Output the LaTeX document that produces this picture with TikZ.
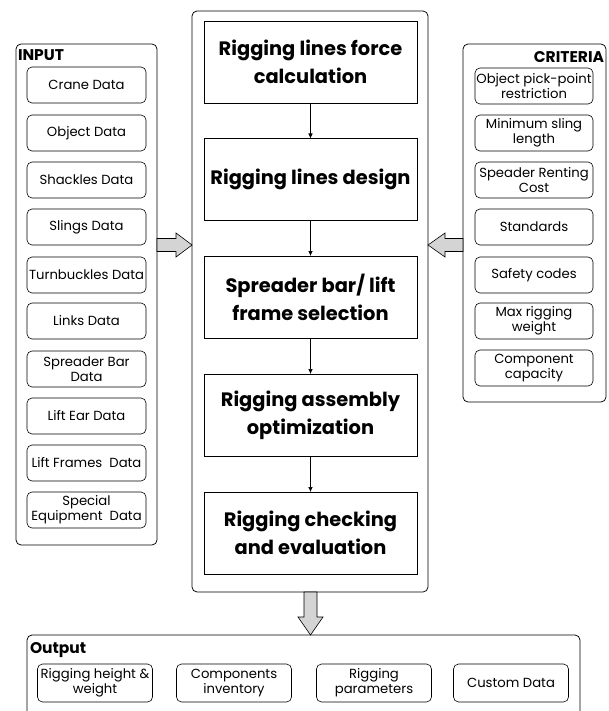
\documentclass[tikz,border=0pt]{standalone}
\usepackage{fontspec}
\setmainfont{Poppins}
\usetikzlibrary{arrows.meta}
\tikzset{
  every node/.style={inner sep=0pt, outer sep=0pt},
  outerbox/.style={draw, line width=0.75pt, rounded corners=5pt, anchor=north west},
  databox/.style={draw, line width=0.6pt, rounded corners=5pt, minimum width=119pt, minimum height=36pt, align=center, font=\fontsize{13.2}{15}\selectfont},
  stepbox/.style={draw, line width=0.75pt, fill=white, minimum width=213pt, minimum height=82pt, align=center, font=\bfseries\fontsize{19.4}{28}\selectfont},
  outbox/.style={databox, minimum width=115pt, minimum height=38pt},
  titletext/.style={font=\bfseries\fontsize{15.5}{18}\selectfont},
  flow/.style={draw, line width=0.6pt, -{Latex[length=5pt,width=4.5pt]}},
  barr/.style={draw, line width=0.6pt, fill=black!17},
}
\begin{document}
\begin{tikzpicture}[x=1pt,y=-1pt]
\useasboundingbox (0,0) rectangle (608,711);
% outer containers
\node[outerbox, minimum width=141pt, minimum height=501pt] (inp) at (16,44) {};
\node[outerbox, minimum width=236pt, minimum height=581pt] (cen) at (192,11) {};
\node[outerbox, minimum width=143pt, minimum height=358pt] (cri) at (463,44) {};
\node[outerbox, minimum width=553pt, minimum height=110pt] (out) at (27,635) {};
% titles
\node[titletext, anchor=west] (tin) at (18,55) {INPUT};
\node[titletext, anchor=east] (tcr) at (604,57) {CRITERIA};
\node[titletext, anchor=west] (tout) at (30,650) {Output};
% input data
\node[databox] (i1) at (86.5,85) {Crane Data};
\node[databox] (i2) at (86.5,133) {Object Data};
\node[databox] (i3) at (86.5,180) {Shackles Data};
\node[databox] (i4) at (86.5,227) {Slings Data};
\node[databox] (i5) at (86.5,275) {Turnbuckles Data};
\node[databox] (i6) at (86.5,321) {Links Data};
\node[databox] (i7) at (86.5,369) {Spreader Bar\\Data};
\node[databox] (i8) at (86.5,416) {Lift Ear Data};
\node[databox] (i9) at (86.5,463) {Lift Frames~ Data};
\node[databox] (i10) at (86.5,510) {Special\\Equipment~ Data};
% criteria
\node[databox, minimum width=118pt] (c1) at (534,86) {Object pick-point\\restriction};
\node[databox, minimum width=118pt] (c2) at (534,133) {Minimum sling\\length};
\node[databox, minimum width=118pt] (c3) at (534,180) {Speader Renting\\Cost};
\node[databox, minimum width=118pt] (c4) at (534,227) {Standards};
\node[databox, minimum width=118pt] (c5) at (534,275) {Safety codes};
\node[databox, minimum width=118pt] (c6) at (534,321) {Max rigging\\weight};
\node[databox, minimum width=118pt] (c7) at (534,368) {Component\\capacity};
% steps
\node[stepbox] (s1) at (310.5,62) {Rigging lines force\\calculation};
\node[stepbox] (s2) at (310.5,179.5) {Rigging lines design};
\node[stepbox] (s3) at (310.5,297) {Spreader bar/ lift\\frame selection};
\node[stepbox] (s4) at (310.5,415) {Rigging assembly\\optimization};
\node[stepbox] (s5) at (310.5,533) {Rigging checking\\and evaluation};
\draw[flow] (s1) -- (s2);
\draw[flow] (s2) -- (s3);
\draw[flow] (s3) -- (s4);
\draw[flow] (s4) -- (s5);
% outputs
\node[outbox] (o1) at (95,683) {Rigging height \&\\weight};
\node[outbox] (o2) at (234,683) {Components\\inventory};
\node[outbox] (o3) at (374,683) {Rigging\\parameters};
\node[outbox] (o4) at (511,683) {Custom Data};
% block arrows
\draw[barr] (inp.east |- 0,238.5) -- (176,238.5) -- (176,233) -- (cen.west |- 0,245)
  -- (176,257) -- (176,251.5) -- (inp.east |- 0,251.5) -- cycle;
\draw[barr] (cri.west |- 0,238.5) -- (445,238.5) -- (445,233) -- (cen.east |- 0,245)
  -- (445,257) -- (445,251.5) -- (cri.west |- 0,251.5) -- cycle;
\draw[barr] (cen.south -| 304,0) -- (304,617) -- (298,617) -- (out.north -| 310.5,0)
  -- (323,617) -- (317,617) -- (cen.south -| 317,0) -- cycle;
\end{tikzpicture}
\end{document}
